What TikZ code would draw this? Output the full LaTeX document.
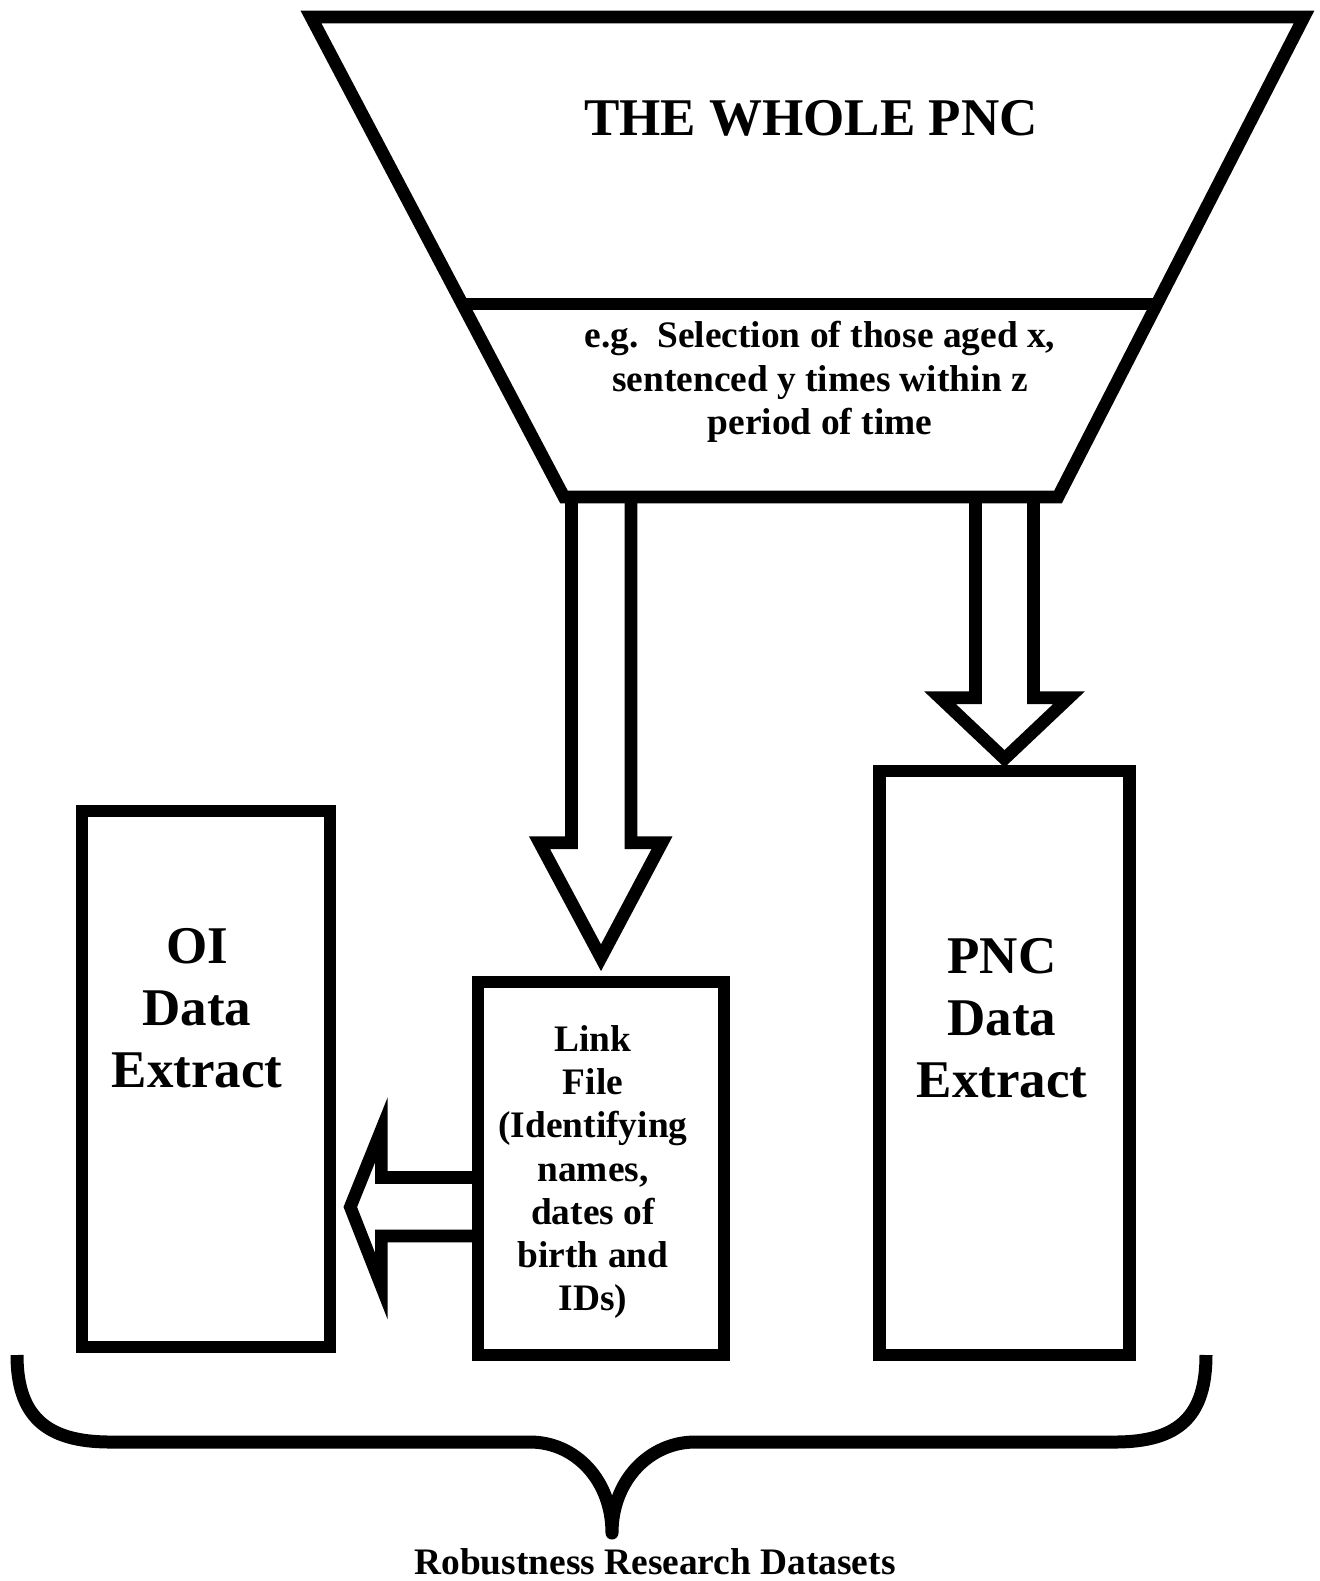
\documentclass[tikz,border=0pt]{standalone}
\usepackage{fontspec}
\setmainfont{Liberation Serif}
\usetikzlibrary{calc}

\begin{document}
\begin{tikzpicture}[x = 0.5pt, y = -0.5pt,
	heavy/.style = {line width = 6.3pt, line join = miter},
	databox/.style = {draw, heavy, rectangle, inner sep = 0pt},
	bigtext/.style = {font = \fontsize{26.5}{31}\selectfont\bfseries, align = center},
	smalltext/.style = {font = \fontsize{18.7}{21.6}\selectfont\bfseries, align = center}]
	\useasboundingbox[fill = white] (0,0) rectangle (1320,1581);
	% funnel
	\coordinate (ftl) at (311,17);
	\coordinate (ftr) at (1304,17);
	\coordinate (fbr) at (1058,497);
	\coordinate (fbl) at (564,497);
	\draw[heavy] (ftl) -- (ftr) -- (fbr) -- (fbl) -- cycle;
	\draw[heavy] ($(ftl)!0.598!(fbl)$) -- ($(ftr)!0.598!(fbr)$);
	\node[bigtext] (whole) at (811,118) {THE WHOLE PNC};
	\node[smalltext] (select) at (820,382) {e.g.\ \ Selection of those aged x,\\sentenced y times within z\\period of time};
	% data boxes
	\node[databox, minimum width = 124pt, minimum height = 268pt] (oi) at (206,1079) {};
	\node[bigtext] (oitext) at (197,1008) {OI\\Data\\Extract};
	\node[databox, minimum width = 123pt, minimum height = 186.5pt] (link) at (601,1168.5) {};
	\node[smalltext] (linktext) at (593,1172) {Link\\File\\(Identifying\\names,\\dates of\\birth and\\IDs)};
	\node[databox, minimum width = 125pt, minimum height = 292pt] (pnc) at (1004.5,1063) {};
	\node[bigtext] (pnctext) at (1002,1018) {PNC\\Data\\Extract};
	% hollow arrows
	\coordinate (linktip) at ($(link.north)+(0,-18)$);
	\coordinate (pnctip) at ($(pnc.north)+(0,-6)$);
	\coordinate (oitip) at ($(oi.east)+(14,128)$);
	\draw[heavy] ($(linktip)+(-29.5,-461)$) -- ++(0,346) -- ++(-32,0) -- (linktip)
		-- ++(61,-115) -- ++(-31,0) -- ++(0,-346);
	\draw[heavy] ($(pnctip)+(-29,-262)$) -- ++(0,201) -- ++(-35.5,0) -- (pnctip)
		-- ++(64.5,-61) -- ++(-35.5,0) -- ++(0,-201);
	\draw[heavy] ($(oitip)+(128,-29.5)$) -- ++(-97,0) -- ++(0,-47.5) -- (oitip)
		-- ++(31,79) -- ++(0,-50) -- ++(97,0);
	% brace
	\coordinate (bleft) at (17,1355);
	\coordinate (bmid) at (612,1533);
	\coordinate (bright) at (1206,1355);
	\draw[line width = 6.5pt, line join = round] (bleft) .. controls (17,1415) and (45,1442) .. (110,1442)
		-- (530,1442) .. controls (575,1442) and (612,1480) .. (bmid)
		.. controls (612,1480) and (650,1442) .. (695,1442) -- (1115,1442)
		.. controls (1180,1442) and (1206,1415) .. (bright);
	\node[smalltext] (datasets) at (655,1562) {Robustness Research Datasets};
\end{tikzpicture}
\end{document}
